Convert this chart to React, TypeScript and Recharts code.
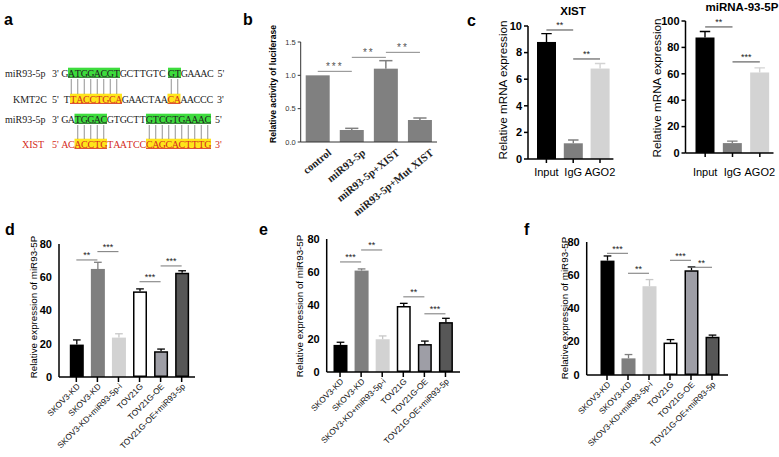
import React from 'react';
import { BarChart, Bar, XAxis, YAxis, ReferenceLine } from 'recharts';

const SANS = '"Liberation Sans", Arial, Helvetica, sans-serif';
const SERIF = '"Liberation Serif", "Times New Roman", Times, serif';

// ---------- panel a : sequence alignment ----------
type Seg = [string, '' | 'g' | 'y'];
const seqRowLabels = ['miR93-5p', 'KMT2C', 'miR93-5p', 'XIST'];
const seqRowPrefix = ["3'", "5'", "3'", "5'"];
const seqRowSuffix = ["5'", "3'", "5'", "3'"];
const seqRows: Seg[][] = [
  [['G', ''], ['ATGGACGT', 'g'], ['GCTTGTC', ''], [' ', ''], ['GT', 'g'], ['GAAAC', '']],
  [['T', ''], ['TACCTGCA', 'y'], ['GAACTAA', ''], ['CA', 'y'], ['AACCC', '']],
  [['GA', ''], ['TGGAC', 'g'], ['GTGCTT', ''], ['GTCGTGAAAC', 'g']],
  [['AC', ''], ['ACCTG', 'y'], ['TAATCC', ''], ['CAGCACTTTG', 'y']],
];

// ---------- panel b ----------
const bCategories = ['control', 'miR93-5p', 'miR93-5p+XIST', 'miR93-5p+Mut XIST'];
const bValues = [1.0, 0.18, 1.1, 0.33];
const bErrors = [0, 0.025, 0.12, 0.03];
const bTicks = [0, 0.5, 1.0, 1.5];
const bSig = [
  { from: 0, to: 1, y: 1.06, text: '***' },
  { from: 1, to: 2, y: 1.27, text: '**' },
  { from: 2, to: 3, y: 1.345, text: '**' },
];

// ---------- panel c ----------
const cCategories = ['Input', 'IgG', 'AGO2'];
const cXistValues = [8.8, 1.18, 6.8];
const cXistErrors = [0.63, 0.25, 0.38];
const cXistTicks = [0, 2, 4, 6, 8, 10];
const cXistSig = [
  { from: 0, to: 1, y: 9.7, text: '**' },
  { from: 1, to: 2, y: 7.52, text: '**' },
];
const cMirValues = [87.5, 7.5, 61];
const cMirErrors = [4.5, 1.5, 3.5];
const cMirTicks = [0, 20, 40, 60, 80, 100];
const cMirSig = [
  { from: 0, to: 1, y: 95.5, text: '**' },
  { from: 1, to: 2, y: 69, text: '***' },
];

// ---------- panels d, e, f ----------
const defCategories = ['SKOV3-KD', 'SKOV3-KD', 'SKOV3-KD+miR93-5p-i', 'TOV21G', 'TOV21G-OE', 'TOV21G-OE+miR93-5p'];
const defTicks = [0, 20, 40, 60, 80];
const dValues = [19.5, 65, 23.7, 51.5, 15.5, 62.7];
const dErrors = [2.8, 4, 2.3, 1.5, 1.3, 1.2];
const dSig = [
  { from: 0, to: 1, y: 70.4, text: '**' },
  { from: 1, to: 2, y: 75.4, text: '***' },
  { from: 3, to: 4, y: 57.3, text: '***' },
  { from: 4, to: 5, y: 66.8, text: '***' },
];
const eValues = [16.3, 61, 19.7, 39.7, 16.8, 30];
const eErrors = [1.6, 1, 2, 1.6, 1.8, 2.3];
const eSig = [
  { from: 0, to: 1, y: 66.2, text: '***' },
  { from: 1, to: 2, y: 73.4, text: '**' },
  { from: 3, to: 4, y: 45.2, text: '**' },
  { from: 4, to: 5, y: 35, text: '***' },
];
const fValues = [68.8, 10, 53.4, 19.5, 63, 23];
const fErrors = [2.8, 2.3, 4, 1.8, 2, 1];
const fSig = [
  { from: 0, to: 1, y: 73.2, text: '***' },
  { from: 1, to: 2, y: 61.2, text: '**' },
  { from: 3, to: 4, y: 69, text: '***' },
  { from: 4, to: 5, y: 64.8, text: '**' },
];

// ---------- styles ----------
const defFills = ['#000000', '#7f7f7f', '#d2d2d2', '#ffffff', '#9e9ea6', '#575757'];
const defStrokes = [null, null, null, '#000', '#000', '#000'];
const defErr = ['#000000', '#7f7f7f', '#c8c8c8', '#000000', '#000000', '#000000'];

type Sig = { from: number; to: number; y: number; text: string };
type PanelCfg = {
  left: number; top: number; width: number; height: number;
  margin: { top: number; right: number; bottom: number; left: number };
  yWidth: number; yMax: number; yTicks: number[]; yFmt: (v: number) => string;
  yTickStyle: any; axisStroke: string; axisWidth: number; yTickSize: number;
  xHeight: number; xPad: { left: number; right: number }; xTickSize: number; xTickLine: boolean;
  categories: string[]; values: number[]; errors: number[];
  fills: string[]; strokes: (string | null)[]; errColors: string[];
  barSize: number; capRatio: number; errWidth: number;
  renderTick: (p: any, label: string) => React.ReactElement;
  sig: Sig[]; sigStroke: string; sigStyle: any; outerTicks?: boolean;
};

const makeShape = (cfg: PanelCfg) => (props: any) => {
  const { x, y, width, height, payload } = props;
  const i = payload && typeof payload.idx === 'number' ? payload.idx : props.index;
  const stroke = cfg.strokes[i];
  const sw = stroke ? 1.5 : 0;
  const errPx = payload.value ? (height * payload.err) / payload.value : 0;
  const cx = x + width / 2;
  const top = y - errPx;
  const cap = width * cfg.capRatio;
  return (
    <g>
      <rect x={x + sw / 2} y={y + sw / 2} width={Math.max(0, width - sw)} height={Math.max(0, height - sw)}
        fill={cfg.fills[i]} stroke={stroke || 'none'} strokeWidth={sw} />
      {errPx > 0 && (
        <g stroke={cfg.errColors[i]} strokeWidth={cfg.errWidth}>
          <line x1={cx} x2={cx} y1={y} y2={top} />
          <line x1={cx - cap / 2} x2={cx + cap / 2} y1={top} y2={top} />
        </g>
      )}
    </g>
  );
};

function Panel({ cfg }: { cfg: PanelCfg }) {
  const data = cfg.categories.map((c, i) => ({ key: 'c' + i, idx: i, value: cfg.values[i], err: cfg.errors[i] }));
  const shape = makeShape(cfg);
  return (
    <div style={{ position: 'absolute', left: cfg.left, top: cfg.top }}>
      <BarChart width={cfg.width} height={cfg.height} data={data} margin={cfg.margin} barSize={cfg.barSize}>
        <XAxis dataKey="key" interval={0} padding={cfg.xPad} height={cfg.xHeight} tickSize={cfg.xTickSize} tickMargin={2}
          axisLine={{ stroke: cfg.axisStroke, strokeWidth: cfg.axisWidth }}
          tickLine={cfg.xTickLine ? { stroke: cfg.axisStroke, strokeWidth: cfg.axisWidth } : false}
          tick={(p: any) => {
            const idx = typeof p.index === 'number' ? p.index : Number(String(p.payload.value).slice(1));
            return cfg.renderTick(p, cfg.categories[idx]);
          }} />
        <YAxis type="number" domain={[0, cfg.yMax]} ticks={cfg.yTicks} width={cfg.yWidth} interval={0}
          tickSize={cfg.yTickSize} tickMargin={2} allowDataOverflow
          axisLine={{ stroke: cfg.axisStroke, strokeWidth: cfg.axisWidth }}
          tickLine={{ stroke: cfg.axisStroke, strokeWidth: cfg.axisWidth }}
          tick={cfg.outerTicks ? false : (p: any) => (
            <text x={p.x} y={p.y} dy="0.35em" textAnchor="end" {...cfg.yTickStyle}>{cfg.yFmt(Number(p.payload.value))}</text>
          )} />
        <Bar dataKey="value" isAnimationActive={false} shape={shape} />
        {cfg.sig.map((s, k) => (
          <ReferenceLine key={k} segment={[{ x: 'c' + s.from, y: s.y }, { x: 'c' + s.to, y: s.y }]}
            stroke={cfg.sigStroke} strokeWidth={1}
            label={(lp: any) => {
              const vb = lp.viewBox || {};
              const cx = (vb.x ?? 0) + (vb.width ?? 0) / 2;
              const ty = (vb.y ?? 0) - 1.5;
              return <text x={cx} y={ty} textAnchor="middle" {...cfg.sigStyle}>{s.text}</text>;
            }} />
        ))}
      </BarChart>
    </div>
  );
}

// tick labels for panels whose axis labels are drawn on the page layer, placed with the panel's own axis geometry
function OuterTicks({ cfg }: { cfg: PanelCfg }) {
  const plotTop = cfg.top + cfg.margin.top;
  const plotH = cfg.height - cfg.margin.top - cfg.margin.bottom - cfg.xHeight;
  const x = cfg.left + cfg.margin.left + cfg.yWidth - cfg.yTickSize - 2;
  return (
    <g>
      {cfg.yTicks.map((v, i) => (
        <text key={i} x={x} y={plotTop + plotH * (1 - v / cfg.yMax)} dy="0.35em" textAnchor="end" {...cfg.yTickStyle}>
          {cfg.yFmt(v)}
        </text>
      ))}
    </g>
  );
}

const rotTick = (dx: number, dy: number, angle: number, style: any) => (p: any, label: string) => (
  <g transform={`translate(${p.x + dx},${p.y + dy})`}>
    <text x={0} y={0} dy="0.35em" textAnchor="end" transform={`rotate(${angle})`} {...style}>{label}</text>
  </g>
);
const flatTick = (dy: number) => (p: any, label: string) => (
  <text x={p.x} y={p.y + dy} textAnchor="middle" fontSize={11} fontFamily={SANS} fill="#000">{label}</text>
);

const boldTick = { fontSize: 11, fontWeight: 700, fill: '#000', fontFamily: SANS };
const intFmt = (v: number) => String(v);
const defTick = rotTick(2, 1, -45, { fontSize: 8.3, fontFamily: SANS, fill: '#111' });
const defSigStyle = { fontSize: 9, fill: '#222', fontFamily: SANS };

const defBase = {
  yMax: 80, yTicks: defTicks, yFmt: intFmt, yTickStyle: boldTick, axisStroke: '#000', axisWidth: 1.5, yTickSize: 5,
  xTickSize: 5, xTickLine: true, categories: defCategories, fills: defFills, strokes: defStrokes,
  errColors: defErr, barSize: 14, capRatio: 0.55, errWidth: 1.3, renderTick: defTick,
  sigStroke: '#777', sigStyle: defSigStyle, outerTicks: true,
};

const panels: PanelCfg[] = [
  {
    left: 240, top: 30, width: 199, height: 192, margin: { top: 12, right: 2, bottom: 0, left: 0 },
    yWidth: 60.7, yMax: 1.5, yTicks: bTicks, yFmt: (v: number) => v.toFixed(1),
    yTickStyle: { fontSize: 7.5, fill: '#333', fontFamily: SANS }, axisStroke: '#333', axisWidth: 1, yTickSize: 3,
    xHeight: 80, xPad: { left: 0, right: 0 }, xTickSize: 0, xTickLine: false,
    categories: bCategories, values: bValues, errors: bErrors,
    fills: ['#808080', '#808080', '#808080', '#808080'], strokes: [null, null, null, null],
    errColors: ['#808080', '#808080', '#808080', '#808080'], barSize: 24, capRatio: 0.55, errWidth: 1.5,
    renderTick: rotTick(12, 7, -39, { fontSize: 10.8, fontFamily: SERIF, fontWeight: 700, fill: '#222' }),
    sig: bSig, sigStroke: '#888', sigStyle: { fontSize: 10, fill: '#555', fontFamily: SANS, letterSpacing: 2 },
  },
  {
    left: 440, top: 16, width: 176, height: 173, margin: { top: 10, right: 2.6, bottom: 0, left: 0 },
    yWidth: 88, yMax: 10, yTicks: cXistTicks, yFmt: intFmt, yTickStyle: boldTick, axisStroke: '#000', axisWidth: 1.5, yTickSize: 4,
    xHeight: 30, xPad: { left: 5, right: 0 }, xTickSize: 4, xTickLine: true,
    categories: cCategories, values: cXistValues, errors: cXistErrors,
    fills: ['#000000', '#7f7f7f', '#d3d3d3'], strokes: [null, null, null], errColors: ['#000000', '#7f7f7f', '#d3d3d3'],
    barSize: 19, capRatio: 0.55, errWidth: 1.4, renderTick: flatTick(11),
    sig: cXistSig, sigStroke: '#444', sigStyle: { fontSize: 9, fill: '#222', fontFamily: SANS },
  },
  {
    left: 620, top: 11, width: 155.5, height: 172, margin: { top: 10, right: 2, bottom: 0, left: 0 },
    yWidth: 65.5, yMax: 100, yTicks: cMirTicks, yFmt: intFmt, yTickStyle: boldTick, axisStroke: '#000', axisWidth: 1.5, yTickSize: 4,
    xHeight: 30, xPad: { left: 6, right: 0 }, xTickSize: 4, xTickLine: true,
    categories: cCategories, values: cMirValues, errors: cMirErrors,
    fills: ['#000000', '#7f7f7f', '#d3d3d3'], strokes: [null, null, null], errColors: ['#000000', '#7f7f7f', '#d3d3d3'],
    barSize: 19, capRatio: 0.55, errWidth: 1.4, renderTick: flatTick(17),
    sig: cMirSig, sigStroke: '#444', sigStyle: { fontSize: 9, fill: '#222', fontFamily: SANS },
  },
  {
    ...defBase, left: 0, top: 234, width: 198, height: 218, margin: { top: 10, right: 3, bottom: 0, left: 0 },
    yWidth: 59, xHeight: 75, xPad: { left: 6.8, right: 2.8 }, values: dValues, errors: dErrors, sig: dSig,
  },
  {
    ...defBase, left: 260, top: 229, width: 203, height: 218, margin: { top: 10, right: 3, bottom: 0, left: 0 },
    yWidth: 66.7, xHeight: 75, xPad: { left: 2.8, right: 4 }, values: eValues, errors: eErrors, sig: eSig,
  },
  {
    ...defBase, left: 520, top: 231.7, width: 211, height: 218, margin: { top: 10, right: 3, bottom: 0, left: 0 },
    yWidth: 66.7, xHeight: 75, xPad: { left: 9.8, right: 5.5 }, values: fValues, errors: fErrors, sig: fSig,
  },
];

// ---------- overlay texts ----------
const panelLetters = [
  { t: 'a', x: 4, y: 25 }, { t: 'b', x: 243, y: 25 }, { t: 'c', x: 467, y: 26 },
  { t: 'd', x: 5, y: 235 }, { t: 'e', x: 259, y: 235 }, { t: 'f', x: 524, y: 235 },
];
const yLabels = [
  { t: 'Relative activity of luciferase', x: 273, y: 84, size: 8.6, bold: true },
  { t: 'Relative mRNA expression', x: 502, y: 90, size: 11.7, bold: false },
  { t: 'Relative mRNA expression', x: 656, y: 88, size: 11.7, bold: false },
  { t: 'Relative expression of miR93-5P', x: 33, y: 307, size: 9.8, bold: false },
  { t: 'Relative expression of miR93-5P', x: 299, y: 306, size: 9.8, bold: false },
  { t: 'Relative expression of miR93-5P', x: 564, y: 308, size: 9.8, bold: false },
];
const titles = [
  { t: 'XIST', x: 573, y: 15 },
  { t: 'miRNA-93-5P', x: 742, y: 11 },
];

const rowBase = [76.5, 102.5, 122.5, 147.5];
const rowX0 = [61.5, 63.5, 61.5, 61.5];
const rowLabelX = [5, 13, 5, 22];
const RED = '#d42a22';
const GREEN = '#3ddc3d';
const YELLOW = '#ffe51a';

function layoutRow(r: number) {
  let x = rowX0[r];
  const cells: { ch: string; x: number; w: number; h: string }[] = [];
  const boxes: { x: number; w: number; h: string }[] = [];
  for (const [txt, h] of seqRows[r]) {
    const start = x;
    for (const ch of txt) {
      const w = ch === ' ' ? 2.5 : 6.5;
      cells.push({ ch, x, w, h });
      x += w;
    }
    if (h) boxes.push({ x: start, w: x - start, h });
  }
  return { cells, boxes, end: x };
}

function PanelA() {
  const rows = seqRows.map((_, r) => layoutRow(r));
  const pairs = [[0, 1], [2, 3]];
  return (
    <g fontFamily={SERIF} fontSize={10}>
      {rows.map((row, r) => {
        const base = rowBase[r];
        const isRed = r === 3;
        return (
          <g key={r}>
            {row.boxes.map((b, k) => (
              <g key={k}>
                <rect x={b.x} y={base - 8.8} width={b.w} height={9.8} fill={b.h === 'g' ? GREEN : YELLOW} />
                <line x1={b.x} x2={b.x + b.w} y1={base + 1} y2={base + 1} stroke={b.h === 'g' ? '#2a6a2a' : RED} strokeWidth={0.8} />
              </g>
            ))}
            <text x={rowLabelX[r]} y={base} fill={isRed ? RED : '#222'}>{seqRowLabels[r]}</text>
            <text x={52} y={base} fill={isRed ? RED : '#222'}>{seqRowPrefix[r]}</text>
            {row.cells.map((c, k) => (
              c.ch === ' ' ? null : (
                <text key={k} x={c.x + c.w / 2} y={base} textAnchor="middle"
                  fill={isRed || c.h === 'y' ? RED : '#222'}>{c.ch}</text>
              )
            ))}
            <text x={row.end + 4} y={base} fill={isRed ? RED : '#222'}>{seqRowSuffix[r]}</text>
          </g>
        );
      })}
      {pairs.map(([a, b], k) =>
        rows[a].cells.filter((c) => c.h === 'g').map((c, j) => (
          <line key={k + '-' + j} x1={c.x + c.w / 2} x2={c.x + c.w / 2} y1={rowBase[a] + 2.5} y2={rowBase[b] - 8.5}
            stroke="#777" strokeWidth={0.8} />
        ))
      )}
    </g>
  );
}

export default function App() {
  return (
    <div style={{ position: 'absolute', left: 0, top: 0, width: 779, height: 457, background: '#fff', overflow: 'hidden' }}>
      {panels.map((cfg, i) => <Panel key={i} cfg={cfg} />)}
      <svg width={779} height={457} style={{ position: 'absolute', left: 0, top: 0, pointerEvents: 'none' }}>
        <PanelA />
        {panels.filter((c) => c.outerTicks).map((cfg, i) => <OuterTicks key={i} cfg={cfg} />)}
        {panelLetters.map((p, i) => (
          <text key={i} x={p.x} y={p.y} fontSize={16} fontWeight={700} fontFamily={SANS} fill="#000">{p.t}</text>
        ))}
        {titles.map((p, i) => (
          <text key={i} x={p.x} y={p.y} fontSize={11.5} fontWeight={700} fontFamily={SANS} textAnchor="middle" fill="#000">{p.t}</text>
        ))}
        {yLabels.map((p, i) => (
          <text key={i} transform={`translate(${p.x},${p.y}) rotate(-90)`} textAnchor="middle" dominantBaseline="central"
            fontSize={p.size} fontWeight={p.bold ? 700 : 400} fontFamily={SANS} fill="#000">{p.t}</text>
        ))}
      </svg>
    </div>
  );
}
